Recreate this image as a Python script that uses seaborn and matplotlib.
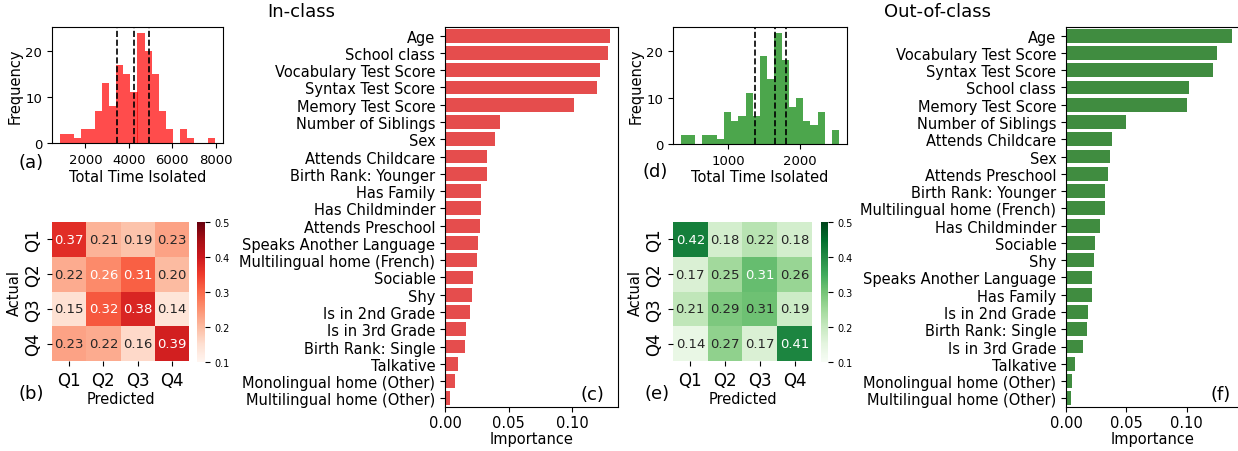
import numpy as np
import pandas as pd
import matplotlib
matplotlib.use("Agg")
import matplotlib.pyplot as plt
import seaborn as sns

# ---- data ----
quartiles = ["Q1", "Q2", "Q3", "Q4"]

# histogram of total time isolated (22 bins)
in_hist_range = (824, 7981)
in_hist_counts = [2, 2, 1, 3, 3, 7, 13, 8, 17, 15, 11, 24, 20, 15, 7, 3, 0, 3, 1, 0, 0, 1]
in_quartile_cuts = [3440, 4229, 4934]

out_hist_range = (340, 2544)
out_hist_counts = [2, 2, 0, 2, 2, 1, 7, 5, 6, 11, 6, 19, 14, 24, 18, 8, 10, 5, 4, 7, 0, 3]
out_quartile_cuts = [1372, 1647, 1805]

# confusion matrices (rows actual, cols predicted)
in_cm = [[0.37, 0.21, 0.19, 0.23],
         [0.22, 0.26, 0.31, 0.20],
         [0.15, 0.32, 0.38, 0.14],
         [0.23, 0.22, 0.16, 0.39]]
out_cm = [[0.42, 0.18, 0.22, 0.18],
          [0.17, 0.25, 0.314, 0.26],
          [0.21, 0.29, 0.306, 0.19],
          [0.14, 0.27, 0.17, 0.41]]
cbar_ticks = [0.1, 0.2, 0.3, 0.4, 0.5]

# feature importances
in_features = ["Age", "School class", "Vocabulary Test Score", "Syntax Test Score",
               "Memory Test Score", "Number of Siblings", "Sex", "Attends Childcare",
               "Birth Rank: Younger", "Has Family", "Has Childminder", "Attends Preschool",
               "Speaks Another Language", "Multilingual home (French)", "Sociable", "Shy",
               "Is in 2nd Grade", "Is in 3rd Grade", "Birth Rank: Single", "Talkative",
               "Monolingual home (Other)", "Multilingual home (Other)"]
in_importance = [0.1297, 0.1287, 0.1224, 0.1195, 0.1016, 0.0432, 0.0397, 0.0329,
                 0.0329, 0.0282, 0.0282, 0.0279, 0.0258, 0.0250, 0.0224, 0.0216,
                 0.0200, 0.0166, 0.0155, 0.0105, 0.0076, 0.0039]

out_features = ["Age", "Vocabulary Test Score", "Syntax Test Score", "School class",
                "Memory Test Score", "Number of Siblings", "Attends Childcare", "Sex",
                "Attends Preschool", "Birth Rank: Younger", "Multilingual home (French)",
                "Has Childminder", "Sociable", "Shy", "Speaks Another Language", "Has Family",
                "Is in 2nd Grade", "Birth Rank: Single", "Is in 3rd Grade", "Talkative",
                "Monolingual home (Other)", "Multilingual home (Other)"]
out_importance = [0.1373, 0.1254, 0.1215, 0.1017, 0.1006, 0.0497, 0.0384, 0.0367,
                  0.0351, 0.0326, 0.0326, 0.0279, 0.0243, 0.0232, 0.0218, 0.0213,
                  0.0180, 0.0171, 0.0138, 0.0072, 0.0052, 0.0041]

W, H = 1238, 452
fig = plt.figure(figsize=(W / 100, H / 100), dpi=100)


def box(l, t, r, b):
	return fig.add_axes([l / W, 1 - b / H, (r - l) / W, (b - t) / H])


def hist_panel(ax, rng, counts, cuts, color):
	edges = np.linspace(rng[0], rng[1], len(counts) + 1)
	df = pd.DataFrame({"time": (edges[:-1] + edges[1:]) / 2, "count": counts})
	sns.histplot(data=df, x="time", weights="count", bins=list(edges), color=color,
	             alpha=0.7, linewidth=0, ax=ax)
	for c in cuts:
		ax.axvline(c, color="k", ls="--", lw=1.2)
	ax.set_xlabel("Total Time Isolated", fontsize=10.5, labelpad=2)
	ax.set_ylabel("Frequency", fontsize=10.5, labelpad=2)
	ax.tick_params(labelsize=9.5)


def heat_panel(ax, cax, cm, cmap, white_from=None):
	sns.heatmap(np.array(cm), annot=True, fmt=".2f", cmap=cmap, vmin=0.1, vmax=0.5,
	            xticklabels=quartiles, yticklabels=quartiles, ax=ax, cbar_ax=cax,
	            annot_kws={"size": 9.5})
	if white_from is not None:
		for t in ax.texts:
			t.set_color("white" if float(t.get_text()) >= white_from else "#262626")
	ax.set_xlabel("Predicted", fontsize=10.5, labelpad=2)
	ax.set_ylabel("Actual", fontsize=10.5, labelpad=2)
	ax.tick_params(labelsize=12)
	cax.set_yticks(cbar_ticks)
	cax.set_yticklabels([str(v) for v in cbar_ticks])
	cax.tick_params(labelsize=7)


def bar_panel(ax, feats, vals, color):
	sns.barplot(x=vals, y=feats, color=color, alpha=0.8, ax=ax)
	ax.set_xlabel("Importance", fontsize=10.5, labelpad=1)
	ax.set_ylabel("")
	ax.set_xticks([0.0, 0.05, 0.10])
	ax.set_xticklabels(["0.00", "0.05", "0.10"])
	ax.tick_params(labelsize=10.5)
	ax.tick_params(axis="x", pad=2)


# in-class
hist_panel(box(52, 28, 223, 144), in_hist_range, in_hist_counts, in_quartile_cuts, "red")
heat_panel(box(52, 223, 189, 362), box(197, 223, 205, 363), in_cm, "Reds", white_from=0.255)
bar_panel(box(445, 28, 618, 408), in_features, in_importance, "red")

# out-of-class
hist_panel(box(673, 28, 847, 145), out_hist_range, out_hist_counts, out_quartile_cuts, "green")
heat_panel(box(673, 223, 812, 362), box(821, 223, 828, 363), out_cm, "Greens")
bar_panel(box(1066, 28, 1240, 408), out_features, out_importance, "green")

fig.text(301 / W, 1 - 12 / H, "In-class", ha="center", va="center", fontsize=13)
fig.text(937 / W, 1 - 12 / H, "Out-of-class", ha="center", va="center", fontsize=13)

for lab, x, y in [("(a)", 18, 163), ("(b)", 19, 394), ("(c)", 581, 395),
                  ("(d)", 643, 172), ("(e)", 644, 394), ("(f)", 1210, 395)]:
	fig.text(x / W, 1 - y / H, lab, ha="left", va="center", fontsize=13)

fig.savefig("out.png", dpi=100)
